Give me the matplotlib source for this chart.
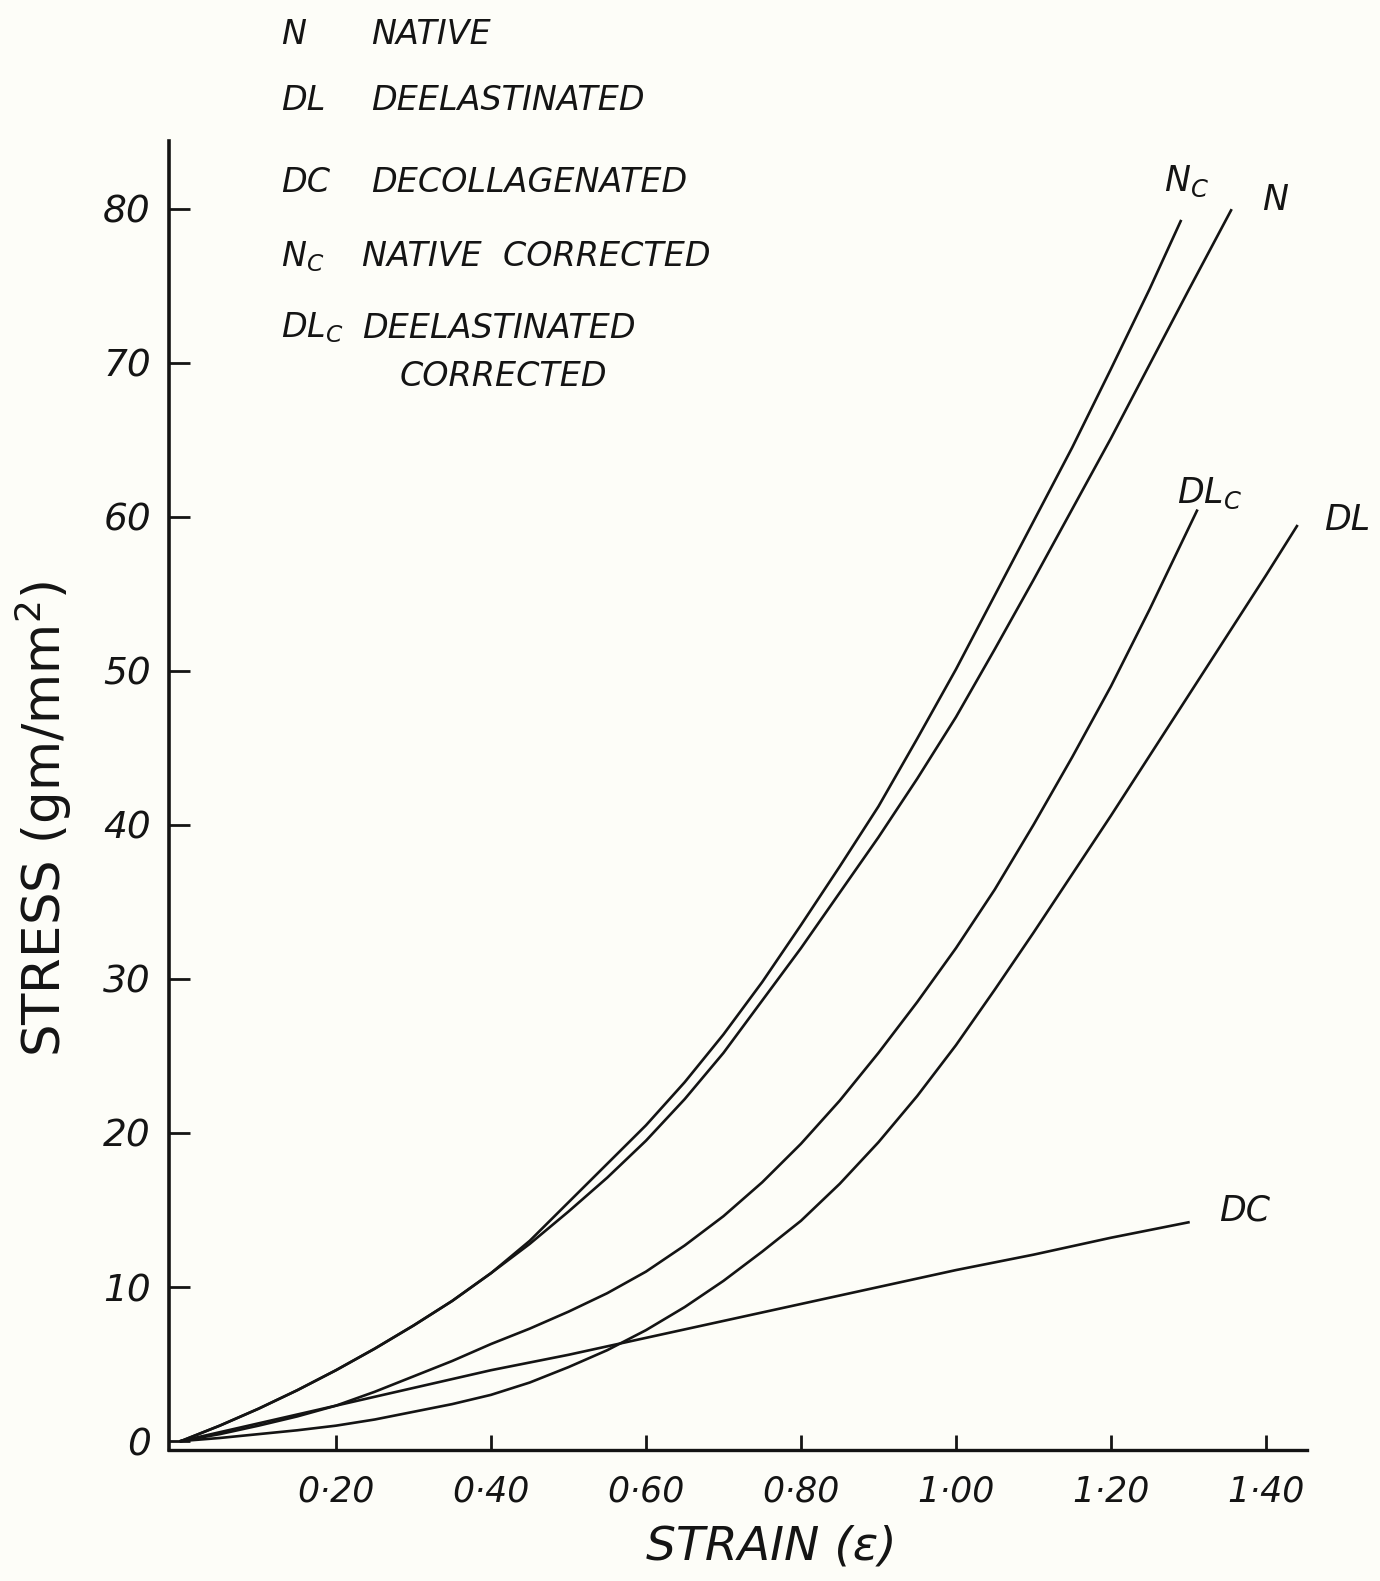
import matplotlib
matplotlib.use("Agg")
import matplotlib.pyplot as plt

# stress-strain curves
strain_nc = [0, 0.05, 0.1, 0.15, 0.2, 0.25, 0.3, 0.35, 0.4, 0.45, 0.5, 0.55,
             0.6, 0.65, 0.7, 0.75, 0.8, 0.85, 0.9, 0.95, 1.0, 1.05, 1.1, 1.15,
             1.2, 1.25, 1.29]
stress_nc = [0, 1.0, 2.1, 3.3, 4.6, 6.0, 7.5, 9.1, 10.9, 13.0, 15.5, 18.0,
             20.5, 23.3, 26.4, 29.8, 33.5, 37.3, 41.2, 45.6, 50.1, 54.9, 59.7, 64.5,
             69.6, 74.8, 79.2]

strain_n = [0, 0.05, 0.1, 0.15, 0.2, 0.25, 0.3, 0.35, 0.4, 0.45, 0.5, 0.55,
            0.6, 0.65, 0.7, 0.75, 0.8, 0.85, 0.9, 0.95, 1.0, 1.05, 1.1, 1.15,
            1.2, 1.25, 1.3, 1.355]
stress_n = [0, 1.0, 2.1, 3.3, 4.6, 6.0, 7.5, 9.1, 10.9, 12.8, 14.9, 17.1,
            19.5, 22.2, 25.2, 28.6, 32.0, 35.6, 39.2, 43.0, 47.0, 51.4, 55.9, 60.5,
            65.1, 69.9, 74.7, 79.9]

strain_dlc = [0, 0.05, 0.1, 0.15, 0.2, 0.25, 0.3, 0.35, 0.4, 0.45, 0.5, 0.55,
              0.6, 0.65, 0.7, 0.75, 0.8, 0.85, 0.9, 0.95, 1.0, 1.05, 1.1, 1.15,
              1.2, 1.25, 1.311]
stress_dlc = [0, 0.45, 1.0, 1.6, 2.3, 3.2, 4.2, 5.2, 6.3, 7.3, 8.4, 9.6,
              11.0, 12.7, 14.6, 16.8, 19.3, 22.1, 25.2, 28.5, 32.0, 35.8, 40.0, 44.4,
              49.0, 54.0, 60.4]

strain_dl = [0, 0.05, 0.1, 0.15, 0.2, 0.25, 0.3, 0.35, 0.4, 0.45, 0.5, 0.55,
             0.6, 0.65, 0.7, 0.75, 0.8, 0.85, 0.9, 0.95, 1.0, 1.05, 1.1, 1.15,
             1.2, 1.25, 1.3, 1.35, 1.4, 1.44]
stress_dl = [0, 0.2, 0.45, 0.7, 1.0, 1.4, 1.9, 2.4, 3.0, 3.8, 4.8, 5.9,
             7.2, 8.7, 10.4, 12.3, 14.3, 16.7, 19.4, 22.4, 25.7, 29.3, 33.0, 36.8,
             40.6, 44.5, 48.4, 52.3, 56.2, 59.4]

strain_dc = [0, 0.1, 0.2, 0.3, 0.4, 0.5, 0.6, 0.7, 0.8, 0.9, 1.0, 1.1, 1.2, 1.3]
stress_dc = [0, 1.15, 2.3, 3.45, 4.6, 5.6, 6.7, 7.8, 8.9, 10.0, 11.1, 12.1, 13.2, 14.2]

x_ticks = [0.2, 0.4, 0.6, 0.8, 1.0, 1.2, 1.4]
x_tick_labels = ["0·20", "0·40", "0·60", "0·80", "1·00", "1·20", "1·40"]
y_ticks = [0, 10, 20, 30, 40, 50, 60, 70, 80]

legend_codes = ["N", "DL", "DC", "N$_C$", "DL$_C$"]
legend_names = ["NATIVE", "DEELASTINATED", "DECOLLAGENATED",
                "NATIVE  CORRECTED", "DEELASTINATED"]

plt.rcParams["font.family"] = ["DejaVu Sans"]
plt.rcParams["mathtext.fontset"] = "dejavusans"
plt.rcParams["mathtext.default"] = "it"

W, H = 1380, 1581
ink = "#141414"

fig = plt.figure(figsize=(W / 100, H / 100), dpi=100, facecolor="#fdfdf8")
ax = fig.add_axes([169 / W, 1 - 1450 / H, (1307 - 169) / W, (1450 - 141) / H])
ax.set_facecolor("none")

for xs, ys in [(strain_nc, stress_nc), (strain_n, stress_n),
               (strain_dlc, stress_dlc), (strain_dl, stress_dl),
               (strain_dc, stress_dc)]:
    ax.plot(xs, ys, color=ink, lw=1.9, solid_joinstyle="round")

ax.set_xlim(-0.0155, 1.453)
ax.set_ylim(-0.58, 84.4)

for s in ["top", "right"]:
    ax.spines[s].set_visible(False)
ax.spines["left"].set_linewidth(2.6)
ax.spines["bottom"].set_linewidth(2.4)
for s in ["left", "bottom"]:
    ax.spines[s].set_color(ink)

ax.set_xticks(x_ticks)
ax.set_xticklabels(x_tick_labels)
ax.set_yticks(y_ticks)
ax.tick_params(axis="x", direction="in", length=11, width=2, pad=18,
               labelsize=25, colors=ink)
ax.tick_params(axis="y", direction="in", length=15, width=2, pad=13,
               labelsize=27, colors=ink)
for lbl in ax.get_xticklabels() + ax.get_yticklabels():
    lbl.set_style("italic")

# curve names at the top ends
end_kw = dict(fontsize=25, style="italic", color=ink, ha="center", va="center")
ax.text(1.298, 81.8, "N$_C$", **end_kw)
ax.text(1.412, 80.6, "N", **end_kw)
ax.text(1.328, 61.5, "DL$_C$", **end_kw)
ax.text(1.505, 59.8, "DL", **end_kw)
ax.text(1.373, 15.0, "DC", **end_kw)

# key in the top left corner
row_y = [34, 101, 183, 257, 328]
name_x = [371, 371, 371, 362, 362]
for code, name, py, nx in zip(legend_codes, legend_names, row_y, name_x):
    fig.text(281 / W, 1 - py / H, code, fontsize=24, style="italic",
             color=ink, ha="left", va="center")
    fig.text(nx / W, 1 - py / H, name, fontsize=24, style="italic",
             color=ink, ha="left", va="center")
fig.text(400 / W, 1 - 376 / H, "CORRECTED", fontsize=24, style="italic",
         color=ink, ha="left", va="center")

fig.text(43 / W, 1 - 819 / H, "STRESS (gm/mm$^\\mathregular{2}$)", fontsize=37,
         rotation=90, color=ink, ha="center", va="center")
fig.text(771 / W, 1 - 1547 / H, "STRAIN (ε)", fontsize=34, style="italic",
         color=ink, ha="center", va="center")

fig.savefig("out.png", dpi=100, facecolor=fig.get_facecolor())
